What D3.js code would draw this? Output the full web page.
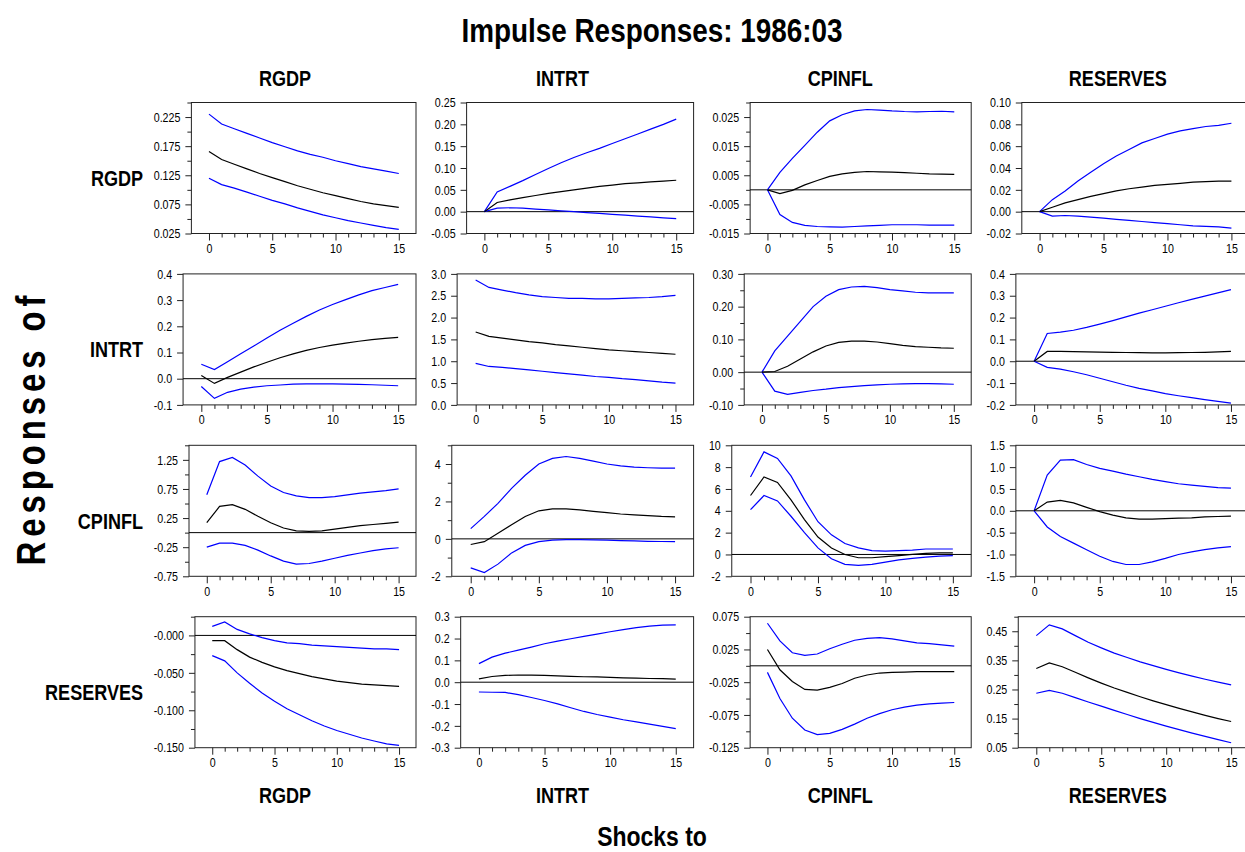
<!DOCTYPE html>
<html><head><meta charset="utf-8">
<script src="https://cdn.jsdelivr.net/npm/d3@7"></script>
<style>
body{margin:0;background:#fff}
svg{display:block}
text{font-family:"Liberation Sans Narrow","Arial Narrow","Liberation Sans",Arial,sans-serif;fill:#000}
</style>
</head><body>
<svg id="chart" width="1245" height="852"></svg>
<script>
// ---------- DATA ----------
const variables = ["RGDP", "INTRT", "CPINFL", "RESERVES"];
const horizons = [0,1,2,3,4,5,6,7,8,9,10,11,12,13,14,15];
const xTickMajor = [0, 5, 10, 15];

// Responses of RGDP to shocks in [RGDP, INTRT, CPINFL, RESERVES]
const midRGDP = [
  [0.166,0.152,0.144,0.136,0.128,0.121,0.114,0.107,0.101,0.095,0.090,0.085,0.080,0.076,0.073,0.070],
  [0,0.021,0.027,0.032,0.037,0.042,0.046,0.050,0.054,0.058,0.061,0.064,0.066,0.068,0.070,0.072],
  [0,-0.0013,-0.0002,0.0017,0.0032,0.0046,0.0055,0.0060,0.0063,0.0062,0.0061,0.0059,0.0057,0.0055,0.0054,0.0053],
  [0,0.004,0.008,0.011,0.014,0.0165,0.019,0.021,0.0225,0.024,0.025,0.026,0.027,0.0275,0.028,0.028]
];
const loRGDP = [
  [0.120,0.109,0.103,0.096,0.089,0.082,0.076,0.069,0.063,0.057,0.052,0.047,0.043,0.039,0.035,0.032],
  [0,0.008,0.009,0.008,0.006,0.004,0.002,0.000,-0.002,-0.004,-0.006,-0.008,-0.010,-0.012,-0.014,-0.016],
  [0,-0.0085,-0.0112,-0.0122,-0.0126,-0.0127,-0.0128,-0.0126,-0.0124,-0.0122,-0.0120,-0.0120,-0.0120,-0.0121,-0.0121,-0.0121],
  [0,-0.004,-0.0035,-0.004,-0.005,-0.006,-0.007,-0.008,-0.009,-0.010,-0.011,-0.012,-0.013,-0.0135,-0.014,-0.015]
];
const hiRGDP = [
  [0.230,0.213,0.205,0.197,0.189,0.181,0.174,0.167,0.161,0.156,0.150,0.145,0.140,0.136,0.132,0.128],
  [0,0.045,0.058,0.071,0.085,0.099,0.112,0.124,0.135,0.145,0.156,0.167,0.178,0.189,0.200,0.212],
  [0,0.0060,0.0108,0.0153,0.0198,0.0237,0.0258,0.0271,0.0276,0.0274,0.0271,0.0269,0.0268,0.0269,0.0270,0.0268],
  [0,0.011,0.019,0.028,0.036,0.044,0.051,0.057,0.063,0.067,0.071,0.074,0.076,0.078,0.079,0.081]
];

// Responses of INTRT
const midINTRT = [
  [0.012,-0.018,0.005,0.025,0.045,0.063,0.080,0.095,0.108,0.119,0.128,0.136,0.143,0.149,0.154,0.158],
  [1.67,1.57,1.53,1.49,1.45,1.42,1.38,1.35,1.32,1.29,1.26,1.24,1.22,1.20,1.18,1.16],
  [0,0.002,0.018,0.040,0.062,0.080,0.091,0.095,0.095,0.092,0.087,0.082,0.078,0.076,0.074,0.073],
  [0,0.045,0.045,0.044,0.043,0.042,0.041,0.040,0.039,0.038,0.038,0.039,0.040,0.041,0.043,0.045]
];
const loINTRT = [
  [-0.030,-0.075,-0.052,-0.040,-0.032,-0.027,-0.024,-0.021,-0.020,-0.020,-0.020,-0.021,-0.022,-0.023,-0.025,-0.027],
  [0.95,0.88,0.86,0.83,0.80,0.77,0.74,0.71,0.68,0.65,0.63,0.60,0.58,0.55,0.52,0.50],
  [0,-0.058,-0.068,-0.062,-0.056,-0.052,-0.047,-0.044,-0.041,-0.039,-0.037,-0.036,-0.035,-0.035,-0.036,-0.037],
  [0,-0.028,-0.036,-0.048,-0.062,-0.078,-0.094,-0.110,-0.124,-0.136,-0.148,-0.158,-0.167,-0.176,-0.184,-0.192]
];
const hiINTRT = [
  [0.055,0.035,0.065,0.095,0.125,0.155,0.185,0.212,0.238,0.262,0.283,0.302,0.320,0.336,0.348,0.360],
  [2.86,2.69,2.63,2.57,2.52,2.48,2.46,2.44,2.44,2.43,2.43,2.44,2.45,2.46,2.48,2.51],
  [0,0.065,0.110,0.155,0.200,0.232,0.252,0.260,0.262,0.258,0.252,0.248,0.244,0.242,0.242,0.242],
  [0,0.127,0.133,0.142,0.155,0.170,0.186,0.203,0.220,0.236,0.252,0.268,0.283,0.298,0.313,0.328]
];

// Responses of CPINFL
const midCPINFL = [
  [0.17,0.45,0.48,0.40,0.28,0.17,0.08,0.03,0.02,0.03,0.06,0.09,0.12,0.14,0.16,0.18],
  [-0.30,-0.15,0.30,0.75,1.20,1.50,1.60,1.60,1.55,1.47,1.40,1.33,1.28,1.24,1.20,1.18],
  [5.4,7.1,6.6,5.0,3.2,1.6,0.6,0.0,-0.3,-0.3,-0.2,-0.1,0.0,0.1,0.15,0.15],
  [0,0.20,0.24,0.18,0.08,-0.02,-0.10,-0.16,-0.19,-0.19,-0.18,-0.17,-0.16,-0.14,-0.13,-0.12]
];
const loCPINFL = [
  [-0.25,-0.18,-0.18,-0.22,-0.30,-0.40,-0.49,-0.54,-0.53,-0.49,-0.44,-0.39,-0.35,-0.31,-0.28,-0.26],
  [-1.55,-1.80,-1.35,-0.75,-0.35,-0.15,-0.07,-0.04,-0.04,-0.05,-0.07,-0.09,-0.11,-0.13,-0.14,-0.15],
  [4.1,5.4,4.9,3.5,2.0,0.6,-0.4,-0.9,-1.0,-0.9,-0.7,-0.5,-0.35,-0.25,-0.15,-0.1],
  [0,-0.37,-0.59,-0.74,-0.89,-1.04,-1.16,-1.23,-1.23,-1.17,-1.09,-1.00,-0.94,-0.89,-0.85,-0.82]
];
const hiCPINFL = [
  [0.65,1.22,1.29,1.16,0.97,0.80,0.69,0.63,0.60,0.60,0.62,0.65,0.68,0.70,0.72,0.75],
  [0.55,1.2,1.9,2.7,3.4,4.0,4.3,4.4,4.3,4.15,4.0,3.9,3.83,3.80,3.78,3.78],
  [7.1,9.4,8.8,7.2,5.0,3.0,1.8,1.0,0.6,0.35,0.3,0.35,0.4,0.5,0.5,0.5],
  [0,0.82,1.16,1.17,1.06,0.97,0.91,0.84,0.78,0.72,0.67,0.62,0.59,0.56,0.53,0.52]
];

// Responses of RESERVES
const midRESERVES = [
  [-0.007,-0.007,-0.019,-0.029,-0.036,-0.042,-0.047,-0.051,-0.055,-0.058,-0.061,-0.063,-0.065,-0.066,-0.067,-0.068],
  [0.015,0.026,0.031,0.033,0.032,0.031,0.029,0.027,0.025,0.024,0.022,0.020,0.019,0.017,0.016,0.014],
  [0.025,-0.006,-0.024,-0.036,-0.037,-0.033,-0.027,-0.019,-0.014,-0.011,-0.010,-0.0095,-0.009,-0.009,-0.009,-0.009],
  [0.322,0.341,0.328,0.309,0.290,0.272,0.255,0.240,0.225,0.211,0.198,0.185,0.173,0.161,0.150,0.140]
];
const loRESERVES = [
  [-0.027,-0.034,-0.050,-0.064,-0.077,-0.088,-0.098,-0.106,-0.114,-0.121,-0.127,-0.132,-0.137,-0.141,-0.145,-0.147],
  [-0.045,-0.046,-0.047,-0.057,-0.070,-0.084,-0.099,-0.117,-0.134,-0.148,-0.160,-0.172,-0.182,-0.192,-0.202,-0.213],
  [-0.010,-0.050,-0.080,-0.098,-0.105,-0.103,-0.097,-0.089,-0.080,-0.073,-0.067,-0.063,-0.060,-0.058,-0.057,-0.056],
  [0.237,0.247,0.237,0.222,0.207,0.193,0.178,0.164,0.150,0.137,0.124,0.112,0.100,0.089,0.078,0.067]
];
const hiRESERVES = [
  [0.012,0.018,0.008,0.002,-0.003,-0.007,-0.010,-0.011,-0.013,-0.014,-0.015,-0.016,-0.017,-0.018,-0.018,-0.019],
  [0.085,0.115,0.133,0.147,0.161,0.176,0.188,0.199,0.210,0.220,0.231,0.241,0.250,0.257,0.261,0.263],
  [0.065,0.038,0.020,0.016,0.018,0.026,0.033,0.039,0.042,0.043,0.041,0.038,0.035,0.034,0.032,0.030],
  [0.435,0.472,0.458,0.435,0.412,0.393,0.375,0.360,0.345,0.332,0.319,0.307,0.296,0.285,0.275,0.266]
];

// Y axis domains, labelled ticks and unlabelled minor ticks (rows = response, cols = shock)
const yDomains = [
  [[0.025,0.25],[-0.05,0.25],[-0.015,0.03],[-0.02,0.10]],
  [[-0.1,0.4],[0,3],[-0.1,0.3],[-0.2,0.4]],
  [[-0.75,1.5],[-2,5],[-2,10],[-1.5,1.5]],
  [[-0.15,0.025],[-0.3,0.3],[-0.125,0.075],[0.05,0.5]]
];
const yTickLabels = [
  [["0.025","0.075","0.125","0.175","0.225"],
   ["-0.05","0.00","0.05","0.10","0.15","0.20","0.25"],
   ["-0.015","-0.005","0.005","0.015","0.025"],
   ["-0.02","0.00","0.02","0.04","0.06","0.08","0.10"]],
  [["-0.1","0.0","0.1","0.2","0.3","0.4"],
   ["0.0","0.5","1.0","1.5","2.0","2.5","3.0"],
   ["-0.10","0.00","0.10","0.20","0.30"],
   ["-0.2","-0.1","0.0","0.1","0.2","0.3","0.4"]],
  [["-0.75","-0.25","0.25","0.75","1.25"],
   ["-2","0","2","4"],
   ["-2","0","2","4","6","8","10"],
   ["-1.5","-1.0","-0.5","0.0","0.5","1.0","1.5"]],
  [["-0.150","-0.100","-0.050","-0.000"],
   ["-0.3","-0.2","-0.1","0.0","0.1","0.2","0.3"],
   ["-0.125","-0.075","-0.025","0.025","0.075"],
   ["0.05","0.15","0.25","0.35","0.45"]]
];
const yMinorTicks = [
  [[0.05,0.10,0.15,0.20,0.25],[],[-0.01,0,0.01,0.02,0.03],[]],
  [[],[],[-0.05,0.05,0.15,0.25],[]],
  [[-0.5,0,0.5,1.0,1.5],[-1,1,3,5],[],[]],
  [[-0.125,-0.075,-0.025,0.025],[],[-0.10,-0.05,0,0.05],[0.10,0.20,0.30,0.40,0.50]]
];

const midAll = [midRGDP, midINTRT, midCPINFL, midRESERVES];
const loAll  = [loRGDP, loINTRT, loCPINFL, loRESERVES];
const hiAll  = [hiRGDP, hiINTRT, hiCPINFL, hiRESERVES];

// ---------- LAYOUT ----------
const W = 1245, H = 852;
const colStep = 277.6, cellLeft0 = 153, panelRight0 = 416;
const rowTop0 = 102.5, rowStep = 171.4, panelH = 131;
const xDomain = [-1.39, 16.36];
const BLUE = "#0000ff";
const NARROW = 0.82;
const FONT = '"Liberation Sans Narrow","Arial Narrow","Liberation Sans",Arial,sans-serif';

// condense glyphs horizontally (no narrow font installed)
function narrow(sel, f = NARROW) {
  sel.each(function () {
    const L = this.getComputedTextLength();
    if (L > 0) {
      this.setAttribute("textLength", (L * f).toFixed(2));
      this.setAttribute("lengthAdjust", "spacingAndGlyphs");
    }
  });
  return sel;
}

const svg = d3.select("#chart");
svg.append("rect").attr("width", W).attr("height", H).attr("fill", "#fff");

// Title
svg.append("text").attr("x", 652).attr("y", 42).attr("text-anchor", "middle")
  .style("font-size", "34px").style("font-weight", "bold")
  .text("Impulse Responses: 1986:03").call(narrow);

// Column headers (top and bottom)
variables.forEach((v, c) => {
  const cx = 285 + colStep * c;
  svg.append("text").attr("x", cx).attr("y", 86).attr("text-anchor", "middle")
    .style("font-size", "22px").style("font-weight", "bold").text(v).call(narrow);
  svg.append("text").attr("x", cx).attr("y", 803).attr("text-anchor", "middle")
    .style("font-size", "22px").style("font-weight", "bold").text(v).call(narrow);
});

// Row labels
variables.forEach((v, r) => {
  const cy = rowTop0 + rowStep * r + panelH / 2 + 10;
  svg.append("text").attr("x", 143).attr("y", cy + 8).attr("text-anchor", "end")
    .style("font-size", "22px").style("font-weight", "bold").text(v).call(narrow);
});

// Axis titles
svg.append("text").attr("transform", "translate(45,428) rotate(-90)")
  .attr("text-anchor", "middle")
  .style("font-size", "40px").style("font-weight", "bold").style("letter-spacing", "6px")
  .attr("textLength", 275).attr("lengthAdjust", "spacingAndGlyphs")
  .text("Responses of");
svg.append("text").attr("x", 652).attr("y", 846).attr("text-anchor", "middle")
  .style("font-size", "28px").style("font-weight", "bold").text("Shocks to").call(narrow);

// measuring helper
const meas = svg.append("text").style("font-size", "13px").attr("x", -100).attr("y", -100);
function textW(s) { meas.text(s); return meas.node().getComputedTextLength() * NARROW; }

const frameColor = "#222";

for (let r = 0; r < 4; r++) {
  for (let c = 0; c < 4; c++) {
    const labels = yTickLabels[r][c];
    const maxW = d3.max(labels, textW);
    const left = cellLeft0 + colStep * c + maxW + 11.7;
    const right = panelRight0 + colStep * c;
    const top = rowTop0 + rowStep * r;
    const bottom = top + panelH;

    const x = d3.scaleLinear().domain(xDomain).range([left, right]);
    const y = d3.scaleLinear().domain(yDomains[r][c]).range([bottom, top]);

    const g = svg.append("g");

    // frame
    g.append("rect").attr("x", left).attr("y", top)
      .attr("width", right - left).attr("height", bottom - top)
      .attr("fill", "none").attr("stroke", frameColor).attr("stroke-width", 1);

    // Y axis: labelled ticks
    const yAxis = d3.axisLeft(y)
      .tickValues(labels.map(Number))
      .tickFormat((d, i) => labels[i])
      .tickSize(6).tickPadding(5);
    const ya = g.append("g").attr("transform", `translate(${left},0)`).call(yAxis);
    ya.select(".domain").remove();
    ya.selectAll("line").attr("stroke", frameColor);
    ya.selectAll("text").style("font-size", "13px").style("font-family", FONT).call(narrow);

    // Y minor ticks
    const ym = d3.axisLeft(y).tickValues(yMinorTicks[r][c]).tickFormat("").tickSize(4);
    const yma = g.append("g").attr("transform", `translate(${left},0)`).call(ym);
    yma.select(".domain").remove();
    yma.selectAll("line").attr("stroke", frameColor);

    // X axis major ticks with labels
    const xAxis = d3.axisBottom(x).tickValues(xTickMajor).tickFormat(d3.format("d"))
      .tickSize(7).tickPadding(3);
    const xa = g.append("g").attr("transform", `translate(0,${bottom})`).call(xAxis);
    xa.select(".domain").remove();
    xa.selectAll("line").attr("stroke", frameColor);
    xa.selectAll("text").style("font-size", "13px").style("font-family", FONT).call(narrow);

    // X minor ticks
    const xm = d3.axisBottom(x).tickValues(horizons.filter(h => !xTickMajor.includes(h)))
      .tickFormat("").tickSize(4);
    const xma = g.append("g").attr("transform", `translate(0,${bottom})`).call(xm);
    xma.select(".domain").remove();
    xma.selectAll("line").attr("stroke", frameColor);

    // zero line
    const dom = yDomains[r][c];
    if (dom[0] < 0 && dom[1] > 0) {
      g.append("line").attr("x1", left).attr("x2", right)
        .attr("y1", y(0)).attr("y2", y(0))
        .attr("stroke", "#000").attr("stroke-width", 1);
    }

    const line = d3.line().x((d, i) => x(horizons[i])).y(d => y(d));
    [[hiAll[r][c], BLUE], [loAll[r][c], BLUE], [midAll[r][c], "#000"]].forEach(([vals, col]) => {
      g.append("path").datum(vals).attr("d", line)
        .attr("fill", "none").attr("stroke", col).attr("stroke-width", 1.2);
    });
  }
}
meas.remove();
</script>
</body></html>
